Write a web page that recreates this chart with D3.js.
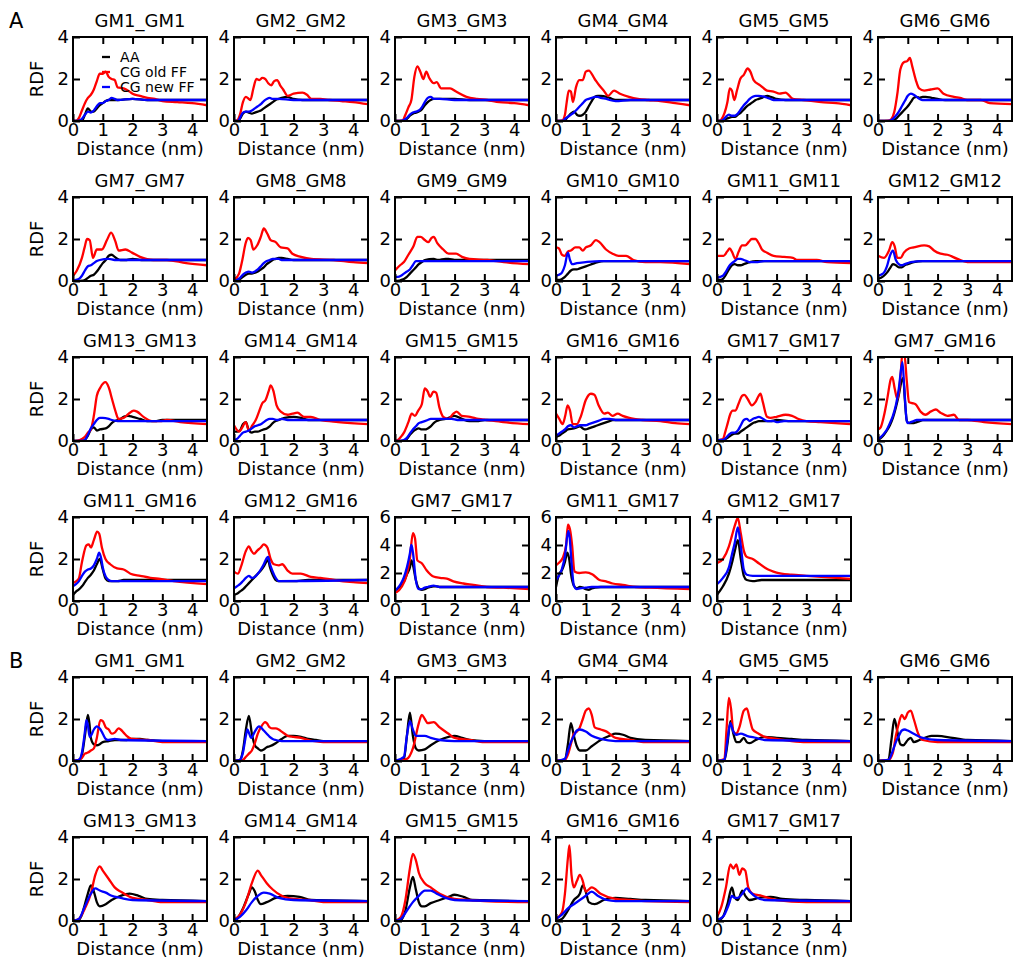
<!DOCTYPE html>
<html>
<head>
<meta charset="utf-8">
<script src="https://cdn.jsdelivr.net/npm/d3@7"></script>
<style>
  body { margin: 0; background: #fff; }
  text { font-family: "DejaVu Sans", sans-serif; fill: #000; }
</style>
</head>
<body>
<svg id="chart"></svg>
<script>
// ---- data: each curve is a flat list x0,y0,x1,y1,... (distance nm, RDF) ----
const titlesA = ["GM1_GM1", "GM2_GM2", "GM3_GM3", "GM4_GM4", "GM5_GM5", "GM6_GM6",
  "GM7_GM7", "GM8_GM8", "GM9_GM9", "GM10_GM10", "GM11_GM11", "GM12_GM12",
  "GM13_GM13", "GM14_GM14", "GM15_GM15", "GM16_GM16", "GM17_GM17", "GM7_GM16",
  "GM11_GM16", "GM12_GM16", "GM7_GM17", "GM11_GM17", "GM12_GM17"];
const yMaxA = [4, 4, 4, 4, 4, 4, 4, 4, 4, 4, 4, 4, 4, 4, 4, 4, 4, 4, 4, 4, 6, 6, 4];

const aaA = [
  [0,0, 0.3,0.02, 0.4,0.3, 0.5,0.6, 0.6,0.45, 0.7,0.45, 0.8,0.6, 0.9,0.75, 1.0,0.85, 1.1,0.95, 1.2,1.0, 1.5,1.0, 2.0,1.05, 2.5,1.0, 4.5,1.0],
  [0,0, 0.15,0.02, 0.2,0.1, 0.3,0.35, 0.4,0.45, 0.5,0.4, 0.6,0.35, 0.7,0.4, 0.8,0.45, 0.9,0.5, 1.0,0.6, 1.1,0.7, 1.2,0.8, 1.3,0.9, 1.4,1.0, 1.5,1.05, 1.6,1.1, 1.8,1.15, 1.9,1.1, 2.0,1.05, 2.3,1.0, 4.5,1.0],
  [0,0, 0.3,0.02, 0.4,0.1, 0.5,0.25, 0.6,0.35, 0.7,0.4, 0.8,0.45, 0.9,0.55, 1.0,0.75, 1.1,0.9, 1.2,1.0, 1.3,1.05, 2.0,1.05, 2.5,1.0, 4.5,1.0],
  [0,0, 0.25,0.02, 0.3,0.05, 0.4,0.2, 0.5,0.35, 0.6,0.45, 0.7,0.3, 0.8,0.25, 0.9,0.3, 1.0,0.45, 1.1,0.7, 1.2,0.95, 1.3,1.15, 1.4,1.2, 1.5,1.2, 1.7,1.15, 1.8,1.1, 2.0,1.0, 4.5,1.0],
  [0,0, 0.15,0.02, 0.2,0.05, 0.3,0.1, 0.4,0.15, 0.5,0.2, 0.6,0.2, 0.7,0.3, 0.8,0.4, 0.9,0.55, 1.0,0.7, 1.1,0.8, 1.2,0.9, 1.3,1.0, 1.4,1.05, 1.5,1.1, 1.7,1.2, 1.8,1.15, 1.9,1.1, 2.0,1.05, 2.3,1.0, 4.5,1.0],
  [0,0, 0.45,0.02, 0.5,0.05, 0.6,0.1, 0.7,0.25, 0.8,0.4, 0.9,0.55, 1.0,0.7, 1.1,0.9, 1.2,1.1, 1.3,1.15, 1.4,1.1, 1.5,1.15, 1.6,1.15, 1.8,1.1, 2.0,1.05, 2.25,1.0, 4.5,1.0],
  [0,0, 0.35,0.02, 0.4,0.05, 0.5,0.15, 0.6,0.25, 0.7,0.3, 0.8,0.45, 0.9,0.65, 1.0,0.85, 1.1,1.0, 1.2,1.2, 1.3,1.25, 1.4,1.15, 1.5,1.05, 1.6,1.0, 1.8,1.0, 2.0,1.05, 2.3,1.0, 4.5,1.0],
  [0,0, 0.1,0.05, 0.2,0.1, 0.3,0.2, 0.4,0.3, 0.5,0.35, 0.6,0.35, 0.7,0.4, 0.8,0.45, 0.9,0.55, 1.0,0.65, 1.1,0.8, 1.2,0.9, 1.3,1.0, 1.4,1.05, 1.5,1.1, 1.6,1.1, 1.8,1.05, 2.0,1.0, 4.5,1.0],
  [0,0, 0.15,0.02, 0.2,0.05, 0.3,0.1, 0.4,0.2, 0.5,0.35, 0.6,0.5, 0.7,0.65, 0.8,0.8, 0.9,0.9, 1.0,1.0, 1.3,1.05, 1.45,1.0, 1.7,1.05, 1.8,1.05, 2.0,1.0, 4.5,1.0],
  [0,0.05, 0.1,0.05, 0.2,0.1, 0.3,0.2, 0.4,0.35, 0.5,0.5, 0.6,0.55, 0.7,0.55, 0.8,0.6, 0.9,0.65, 1.0,0.7, 1.1,0.75, 1.2,0.8, 1.3,0.85, 1.4,0.9, 1.6,0.95, 4.5,0.95],
  [0,0.05, 0.1,0.05, 0.2,0.1, 0.3,0.3, 0.4,0.55, 0.5,0.75, 0.6,0.8, 0.7,0.75, 0.8,0.75, 0.9,0.8, 1.0,0.85, 1.1,0.9, 1.3,0.95, 4.5,0.95],
  [0,0.1, 0.1,0.15, 0.2,0.25, 0.3,0.4, 0.4,0.6, 0.5,0.8, 0.6,0.75, 0.7,0.65, 0.8,0.65, 0.9,0.75, 1.0,0.8, 1.1,0.85, 1.2,0.9, 1.5,0.95, 4.5,0.95],
  [0,0, 0.35,0.02, 0.4,0.05, 0.5,0.25, 0.6,0.55, 0.7,0.65, 0.8,0.5, 0.9,0.55, 1.1,0.6, 1.2,0.7, 1.3,0.85, 1.4,0.95, 1.5,1.0, 1.6,1.05, 1.7,1.15, 1.85,1.2, 2.0,1.15, 2.25,1.05, 2.5,0.95, 2.75,0.95, 3.0,1.0, 4.5,1.0],
  [0,0.45, 0.1,0.45, 0.2,0.5, 0.3,0.8, 0.4,0.9, 0.5,0.5, 0.6,0.4, 0.7,0.45, 0.8,0.45, 0.9,0.5, 1.0,0.55, 1.1,0.6, 1.2,0.7, 1.3,0.85, 1.4,0.95, 1.5,1.0, 1.6,1.05, 1.7,1.1, 2.0,1.15, 2.25,1.1, 2.5,1.0, 4.5,1.0],
  [0,0, 0.3,0.02, 0.4,0.1, 0.5,0.3, 0.6,0.45, 0.7,0.55, 0.8,0.6, 0.9,0.55, 1.0,0.55, 1.1,0.6, 1.2,0.7, 1.3,0.85, 1.4,0.95, 1.5,1.0, 1.7,1.05, 1.8,1.1, 2.0,1.2, 2.25,1.05, 2.5,0.95, 2.75,0.95, 3.0,1.0, 4.5,1.0],
  [0,0.2, 0.1,0.25, 0.2,0.35, 0.3,0.45, 0.4,0.55, 0.6,0.6, 0.7,0.65, 0.8,0.7, 0.9,0.6, 1.0,0.55, 1.1,0.6, 1.2,0.65, 1.3,0.7, 1.4,0.75, 1.5,0.8, 1.6,0.85, 1.7,0.9, 1.8,0.95, 1.9,1.0, 4.5,1.0],
  [0,0, 0.2,0.02, 0.3,0.1, 0.4,0.2, 0.5,0.3, 0.6,0.35, 0.7,0.35, 0.8,0.45, 0.9,0.55, 1.0,0.65, 1.1,0.75, 1.2,0.85, 1.3,0.9, 1.4,0.95, 1.8,0.95, 2.0,1.0, 2.5,0.95, 4.5,0.95],
  [0,0.05, 0.1,0.15, 0.2,0.3, 0.3,0.5, 0.4,0.75, 0.5,1.1, 0.6,1.6, 0.7,2.2, 0.8,2.9, 0.85,3.0, 0.9,2.0, 0.97,0.95, 1.05,0.85, 1.2,0.85, 1.3,0.9, 1.4,0.95, 1.5,1.0, 4.5,1.0],
  [0,0.3, 0.1,0.45, 0.2,0.55, 0.3,0.7, 0.4,0.9, 0.5,1.1, 0.6,1.25, 0.7,1.45, 0.8,1.75, 0.9,2.0, 1.0,1.5, 1.1,1.05, 1.2,0.95, 1.5,0.95, 1.7,1.0, 4.5,1.0],
  [0,0.3, 0.1,0.35, 0.2,0.45, 0.3,0.55, 0.4,0.7, 0.5,0.85, 0.6,1.0, 0.7,1.15, 0.8,1.3, 0.9,1.45, 1.0,1.65, 1.1,1.9, 1.15,1.95, 1.2,1.65, 1.3,1.25, 1.4,1.0, 1.5,0.95, 2.0,0.95, 2.5,1.0, 4.5,1.0],
  [0,0.75, 0.1,0.9, 0.2,1.1, 0.3,1.4, 0.4,1.9, 0.5,2.4, 0.55,2.9, 0.6,2.6, 0.7,1.5, 0.8,0.9, 0.9,0.8, 1.0,0.85, 1.1,0.95, 1.2,1.0, 1.3,1.05, 1.4,1.05, 1.5,1.0, 4.5,1.0],
  [0,1.0, 0.1,1.9, 0.2,2.2, 0.3,2.8, 0.38,3.45, 0.45,2.9, 0.5,2.0, 0.6,1.1, 0.7,0.9, 0.8,1.0, 0.9,0.95, 1.0,0.85, 1.1,0.8, 1.2,0.9, 1.3,0.95, 1.5,1.0, 4.5,1.0],
  [0,0.3, 0.2,0.7, 0.4,1.3, 0.5,1.8, 0.6,2.4, 0.7,2.9, 0.8,2.0, 0.9,1.2, 1.0,1.0, 1.2,0.95, 1.5,1.0, 4.5,1.0]
];

const oldA = [
  [0,0, 0.1,0, 0.2,0.15, 0.3,0.5, 0.4,0.85, 0.5,1.1, 0.6,1.25, 0.7,1.5, 0.8,1.9, 0.9,2.25, 1.0,2.25, 1.1,2.35, 1.2,2.1, 1.3,2.0, 1.4,1.95, 1.5,1.6, 1.7,1.55, 1.9,1.4, 2.0,1.3, 2.25,1.2, 2.5,1.1, 2.75,1.05, 3.0,0.95, 3.5,0.9, 4.0,0.85, 4.5,0.75],
  [0,0, 0.1,0.02, 0.2,0.3, 0.3,0.9, 0.4,1.15, 0.5,1.05, 0.55,1.0, 0.65,1.55, 0.75,2.0, 0.85,1.95, 0.95,2.05, 1.05,2.0, 1.15,1.8, 1.25,1.7, 1.35,1.9, 1.45,1.95, 1.55,1.7, 1.65,1.5, 1.8,1.2, 2.0,1.3, 2.3,1.35, 2.45,1.25, 2.6,1.05, 2.9,1.05, 3.2,1.0, 3.6,0.95, 4.0,0.9, 4.5,0.8],
  [0,0, 0.25,0.02, 0.35,0.3, 0.45,0.65, 0.55,1.0, 0.65,2.1, 0.75,2.6, 0.85,2.35, 0.95,2.0, 1.05,2.35, 1.15,2.05, 1.3,1.8, 1.4,1.85, 1.55,1.55, 1.85,1.55, 2.05,1.4, 2.4,1.15, 2.75,1.05, 3.1,1.0, 3.5,0.9, 4.0,0.85, 4.5,0.75],
  [0,0, 0.2,0.02, 0.3,0.3, 0.36,0.9, 0.43,1.45, 0.5,1.4, 0.57,0.9, 0.67,1.6, 0.78,1.95, 0.9,1.95, 1.0,2.35, 1.1,2.4, 1.3,2.0, 1.45,1.7, 1.6,1.45, 1.75,1.2, 1.95,1.45, 2.15,1.3, 2.45,1.15, 2.75,1.05, 3.1,1.0, 3.5,0.95, 4.0,0.85, 4.5,0.75],
  [0,0, 0.1,0.02, 0.2,0.2, 0.3,0.6, 0.35,0.9, 0.43,1.55, 0.5,1.45, 0.58,1.0, 0.67,1.45, 0.78,2.0, 0.9,2.2, 1.03,2.5, 1.12,2.35, 1.23,1.95, 1.45,1.7, 1.68,1.45, 1.9,1.4, 2.1,1.3, 2.3,1.35, 2.55,1.05, 2.9,1.0, 3.5,0.9, 4.0,0.85, 4.5,0.75],
  [0,0, 0.35,0.02, 0.45,0.1, 0.55,0.45, 0.65,1.3, 0.75,2.45, 0.87,2.8, 0.98,2.85, 1.07,3.0, 1.15,2.6, 1.27,1.95, 1.38,1.55, 1.55,1.45, 1.77,1.5, 2.0,1.55, 2.2,1.3, 2.55,1.15, 2.75,1.1, 3.0,1.0, 3.45,1.0, 3.75,0.85, 4.5,0.8],
  [0,0.25, 0.13,0.5, 0.3,1.1, 0.39,1.6, 0.47,2.0, 0.56,1.95, 0.67,1.1, 0.8,1.5, 0.97,1.5, 1.14,1.95, 1.28,2.3, 1.42,1.9, 1.53,1.45, 1.76,1.5, 1.98,1.35, 2.25,1.15, 2.7,1.0, 3.15,1.0, 3.8,0.85, 4.5,0.75],
  [0,0.05, 0.17,0.35, 0.28,1.0, 0.39,1.8, 0.47,2.05, 0.56,1.95, 0.65,1.5, 0.78,1.7, 0.9,2.1, 1.0,2.5, 1.12,2.25, 1.23,1.95, 1.4,1.85, 1.57,1.6, 1.8,1.55, 1.96,1.3, 2.25,1.15, 2.6,1.05, 3.35,1.0, 4.0,0.9, 4.5,0.85],
  [0,0.5, 0.17,0.75, 0.3,0.9, 0.45,1.25, 0.62,1.65, 0.75,2.1, 0.86,2.1, 1.0,1.95, 1.12,1.85, 1.23,2.05, 1.3,2.1, 1.42,1.8, 1.62,1.5, 1.8,1.3, 2.05,1.3, 2.25,1.15, 2.5,1.05, 3.1,1.0, 3.65,0.9, 4.5,0.8],
  [0,1.6, 0.1,1.55, 0.2,1.25, 0.3,1.2, 0.4,1.4, 0.5,1.45, 0.65,1.6, 0.78,1.6, 0.9,1.45, 1.0,1.6, 1.17,1.7, 1.34,1.95, 1.46,1.85, 1.68,1.5, 1.9,1.3, 2.1,1.2, 2.35,1.2, 2.6,1.0, 3.0,0.9, 3.5,0.9, 4.5,0.8],
  [0,1.2, 0.22,1.2, 0.34,1.4, 0.43,1.55, 0.5,1.4, 0.62,1.05, 0.73,1.4, 0.84,1.7, 0.95,1.7, 1.06,1.85, 1.17,2.0, 1.29,2.0, 1.4,1.8, 1.51,1.5, 1.68,1.35, 1.9,1.2, 2.25,1.15, 2.55,1.1, 2.7,1.0, 3.35,1.0, 3.7,0.9, 4.5,0.85],
  [0,1.2, 0.2,1.1, 0.37,1.45, 0.48,1.85, 0.56,1.65, 0.65,1.1, 0.76,1.1, 0.87,1.35, 1.04,1.55, 1.2,1.6, 1.55,1.7, 1.72,1.65, 1.88,1.45, 2.1,1.3, 2.33,1.25, 2.67,1.05, 3.0,0.9, 3.55,0.9, 4.5,0.9],
  [0,0, 0.15,0.02, 0.3,0.1, 0.4,0.2, 0.5,0.4, 0.6,0.55, 0.7,1.2, 0.8,2.15, 0.92,2.55, 1.09,2.8, 1.2,2.55, 1.31,2.0, 1.42,1.45, 1.53,1.05, 1.7,1.1, 1.87,1.3, 2.04,1.45, 2.15,1.4, 2.37,1.15, 2.65,0.95, 2.93,0.95, 3.15,1.0, 3.6,0.9, 4.5,0.8],
  [0,0.75, 0.17,0.45, 0.28,0.65, 0.39,0.9, 0.5,0.5, 0.62,0.75, 0.73,1.0, 0.84,1.4, 0.95,1.8, 1.06,1.95, 1.17,2.4, 1.23,2.65, 1.32,2.4, 1.43,1.7, 1.57,1.4, 1.8,1.25, 1.96,1.3, 2.13,1.35, 2.35,1.15, 2.58,1.15, 2.9,1.0, 3.5,0.9, 4.5,0.8],
  [0,0, 0.1,0.05, 0.2,0.2, 0.3,0.4, 0.45,0.9, 0.56,1.3, 0.67,1.2, 0.78,1.45, 0.9,1.75, 1.0,2.5, 1.1,2.35, 1.18,2.1, 1.29,2.35, 1.38,2.3, 1.49,1.6, 1.62,1.15, 1.79,1.05, 1.96,1.3, 2.07,1.4, 2.24,1.2, 2.52,1.15, 2.8,1.05, 3.08,1.0, 3.64,0.9, 4.5,0.8],
  [0,1.3, 0.11,1.05, 0.22,0.8, 0.31,1.2, 0.39,1.7, 0.47,1.45, 0.56,0.8, 0.7,0.8, 0.84,1.2, 1.0,1.95, 1.17,2.25, 1.29,2.2, 1.43,1.7, 1.62,1.3, 1.74,1.35, 1.9,1.2, 2.07,1.3, 2.24,1.2, 2.46,1.1, 2.9,1.0, 3.5,0.95, 4.0,0.85, 4.5,0.8],
  [0,0, 0.1,0.05, 0.2,0.1, 0.28,0.45, 0.36,0.85, 0.45,1.3, 0.53,1.45, 0.62,1.45, 0.73,1.8, 0.84,2.15, 0.92,2.2, 1.03,2.0, 1.17,1.7, 1.29,1.85, 1.4,2.15, 1.46,2.25, 1.54,1.85, 1.68,1.15, 1.8,1.1, 2.0,1.15, 2.3,1.25, 2.52,1.2, 2.74,1.05, 3.0,0.95, 3.47,0.9, 4.5,0.8],
  [0,0.55, 0.09,0.65, 0.2,1.2, 0.31,2.0, 0.43,2.95, 0.48,3.05, 0.56,2.5, 0.65,2.0, 0.76,3.15, 0.82,4.2, 0.88,4.2, 0.97,2.8, 1.04,1.85, 1.15,1.8, 1.26,1.75, 1.43,1.4, 1.6,1.25, 1.77,1.4, 1.94,1.5, 2.1,1.35, 2.33,1.2, 2.55,1.25, 2.72,1.0, 3.0,1.0, 3.56,0.9, 4.5,0.8],
  [0,0.85, 0.19,1.05, 0.3,1.85, 0.45,2.65, 0.53,2.7, 0.6,2.55, 0.7,2.9, 0.81,3.3, 0.88,3.2, 0.97,2.55, 1.09,2.0, 1.25,1.75, 1.48,1.55, 1.7,1.5, 1.93,1.3, 2.26,1.2, 2.6,1.1, 2.93,1.05, 3.38,0.95, 4.5,0.8],
  [0,1.4, 0.13,1.3, 0.25,1.7, 0.39,2.35, 0.5,2.6, 0.58,2.4, 0.67,2.25, 0.78,2.4, 0.9,2.55, 1.0,2.7, 1.12,2.55, 1.23,2.0, 1.34,1.75, 1.51,1.7, 1.62,1.75, 1.8,1.45, 1.96,1.3, 2.24,1.3, 2.58,1.15, 2.9,1.1, 3.36,1.0, 4.0,0.9, 4.5,0.85],
  [0,0.6, 0.06,0.65, 0.22,1.0, 0.39,1.85, 0.5,3.05, 0.6,4.85, 0.67,4.5, 0.75,2.9, 0.9,2.7, 1.06,2.2, 1.29,1.75, 1.51,1.65, 1.74,1.6, 1.96,1.4, 2.3,1.25, 2.63,1.15, 3.08,1.0, 3.64,0.95, 4.5,0.85],
  [0,2.55, 0.11,2.75, 0.22,3.05, 0.34,4.0, 0.4,5.45, 0.47,5.1, 0.54,4.0, 0.62,2.1, 0.78,2.0, 1.0,2.05, 1.23,1.9, 1.46,1.5, 1.68,1.4, 1.9,1.25, 2.24,1.15, 2.69,1.0, 3.14,0.95, 4.5,0.85],
  [0,1.8, 0.2,2.0, 0.4,2.6, 0.5,3.1, 0.6,3.6, 0.7,3.95, 0.8,3.2, 0.9,2.4, 1.0,2.1, 1.2,2.0, 1.4,1.8, 1.6,1.6, 1.8,1.45, 2.0,1.35, 2.5,1.25, 3.0,1.2, 4.5,1.05]
];

const newA = [
  [0,0, 0.2,0.02, 0.3,0.1, 0.4,0.3, 0.5,0.45, 0.6,0.4, 0.7,0.5, 0.8,0.7, 0.9,0.85, 1.0,0.85, 1.1,0.95, 1.2,1.0, 1.3,1.1, 1.4,1.05, 1.5,1.0, 2.0,1.05, 2.5,1.0, 4.5,1.0],
  [0,0, 0.15,0.02, 0.2,0.15, 0.3,0.4, 0.4,0.45, 0.5,0.45, 0.6,0.5, 0.7,0.6, 0.8,0.7, 0.9,0.8, 1.0,0.95, 1.1,1.05, 1.2,1.1, 1.3,1.05, 1.5,1.05, 2.0,1.0, 4.5,1.0],
  [0,0, 0.25,0.02, 0.3,0.05, 0.4,0.15, 0.5,0.3, 0.6,0.4, 0.7,0.45, 0.8,0.5, 0.9,0.65, 1.0,0.9, 1.1,1.1, 1.2,1.15, 1.3,1.05, 1.5,1.05, 2.0,1.0, 4.5,1.0],
  [0,0, 0.25,0.02, 0.3,0.1, 0.4,0.2, 0.5,0.3, 0.6,0.4, 0.7,0.55, 0.8,0.7, 0.9,0.85, 1.0,1.0, 1.1,1.05, 1.2,1.1, 1.3,1.15, 1.4,1.15, 1.5,1.1, 1.7,1.05, 1.8,1.0, 2.0,0.95, 2.5,1.0, 4.5,1.0],
  [0,0, 0.15,0.02, 0.2,0.05, 0.3,0.2, 0.4,0.3, 0.5,0.25, 0.6,0.25, 0.7,0.35, 0.8,0.55, 0.9,0.75, 1.0,0.9, 1.1,1.05, 1.2,1.15, 1.3,1.2, 1.4,1.2, 1.6,1.15, 1.7,1.1, 1.8,1.05, 1.9,1.0, 4.5,1.0],
  [0,0, 0.4,0.02, 0.5,0.1, 0.6,0.25, 0.7,0.45, 0.8,0.7, 0.9,0.95, 1.0,1.2, 1.1,1.3, 1.2,1.25, 1.3,1.15, 1.4,1.05, 1.5,1.0, 4.5,1.0],
  [0,0, 0.1,0.05, 0.2,0.1, 0.3,0.25, 0.4,0.5, 0.5,0.7, 0.6,0.75, 0.7,0.85, 0.8,0.95, 0.9,1.0, 1.2,1.05, 1.4,1.0, 4.5,1.0],
  [0,0, 0.1,0.05, 0.2,0.15, 0.3,0.3, 0.4,0.4, 0.5,0.45, 0.6,0.4, 0.7,0.45, 0.8,0.55, 0.9,0.7, 1.0,0.85, 1.1,0.95, 1.2,1.0, 1.3,1.05, 1.5,1.05, 1.6,1.0, 4.5,1.0],
  [0,0.2, 0.1,0.2, 0.2,0.25, 0.3,0.35, 0.4,0.45, 0.5,0.55, 0.6,0.75, 0.7,0.95, 4.5,0.95],
  [0,0.25, 0.1,0.3, 0.2,0.4, 0.3,0.75, 0.4,1.35, 0.47,1.0, 0.55,0.8, 0.7,0.85, 1.0,0.9, 1.5,0.95, 4.5,0.95],
  [0,0.15, 0.1,0.2, 0.2,0.25, 0.3,0.45, 0.4,0.7, 0.5,0.85, 0.6,0.95, 0.7,1.05, 0.8,1.05, 0.9,1.0, 1.0,0.95, 1.1,0.9, 1.3,0.9, 1.6,0.95, 4.5,0.95],
  [0,0.25, 0.1,0.3, 0.2,0.4, 0.3,0.7, 0.4,1.2, 0.5,1.45, 0.6,1.0, 0.7,0.8, 0.8,0.75, 0.9,0.8, 1.0,0.85, 1.1,0.9, 1.5,0.95, 4.5,0.95],
  [0,0, 0.35,0.02, 0.4,0.05, 0.5,0.3, 0.6,0.6, 0.7,0.8, 0.8,1.0, 0.9,1.1, 1.0,1.1, 1.2,1.05, 1.3,1.0, 1.5,0.95, 4.5,0.95],
  [0,0.05, 0.1,0.1, 0.2,0.25, 0.3,0.4, 0.4,0.45, 0.5,0.5, 0.6,0.6, 0.7,0.7, 0.8,0.75, 0.9,0.8, 1.0,0.9, 1.1,1.0, 1.2,1.05, 1.3,1.05, 1.45,1.0, 1.6,1.05, 1.8,1.0, 4.5,1.0],
  [0,0, 0.25,0.02, 0.3,0.05, 0.4,0.15, 0.5,0.35, 0.6,0.55, 0.7,0.7, 0.8,0.85, 0.9,0.9, 1.0,0.95, 1.1,1.0, 1.2,1.05, 1.9,1.05, 2.1,1.0, 4.5,1.0],
  [0,0.25, 0.1,0.35, 0.2,0.45, 0.3,0.55, 0.4,0.7, 0.5,0.75, 0.6,0.65, 0.7,0.7, 0.8,0.75, 1.0,0.75, 1.1,0.8, 1.2,0.85, 1.3,0.9, 1.4,0.95, 1.5,1.0, 1.6,1.05, 1.8,1.05, 2.0,1.0, 4.5,1.0],
  [0,0, 0.1,0.05, 0.2,0.05, 0.3,0.15, 0.4,0.3, 0.5,0.4, 0.6,0.4, 0.7,0.5, 0.8,0.75, 0.9,1.0, 1.0,1.05, 1.1,0.95, 1.2,1.05, 1.3,1.1, 1.4,1.15, 1.5,1.1, 1.6,1.0, 1.7,0.95, 1.9,0.95, 2.0,0.9, 2.25,0.95, 4.5,0.95],
  [0,0.1, 0.1,0.2, 0.2,0.35, 0.3,0.55, 0.4,0.85, 0.5,1.2, 0.6,1.7, 0.7,2.5, 0.82,3.75, 0.88,2.6, 0.96,1.0, 1.0,0.85, 1.1,0.9, 1.2,0.95, 1.3,1.0, 4.5,1.0],
  [0,0.7, 0.1,0.8, 0.2,0.95, 0.3,1.2, 0.4,1.4, 0.5,1.5, 0.6,1.55, 0.7,1.7, 0.8,2.0, 0.88,2.3, 0.95,2.0, 1.0,1.6, 1.1,1.15, 1.2,1.0, 1.3,0.95, 4.5,0.95],
  [0,0.6, 0.1,0.7, 0.2,0.8, 0.3,0.95, 0.4,1.1, 0.5,1.2, 0.6,1.1, 0.7,1.15, 0.8,1.3, 0.9,1.5, 1.0,1.75, 1.1,2.05, 1.15,2.1, 1.2,1.8, 1.3,1.4, 1.4,1.1, 1.5,0.95, 4.5,1.0],
  [0,0.75, 0.1,0.95, 0.2,1.25, 0.3,1.7, 0.4,2.4, 0.5,3.4, 0.55,4.0, 0.6,3.5, 0.7,1.5, 0.8,0.85, 0.9,0.85, 1.0,0.95, 1.1,1.0, 1.3,1.1, 1.4,1.05, 1.5,1.0, 4.5,1.0],
  [0,1.5, 0.1,1.8, 0.2,2.3, 0.3,3.2, 0.41,5.0, 0.46,4.5, 0.52,2.8, 0.6,1.1, 0.7,0.85, 0.8,0.9, 1.0,0.95, 1.2,1.0, 4.5,1.0],
  [0,0.8, 0.2,1.1, 0.4,1.6, 0.5,2.2, 0.6,2.8, 0.7,3.5, 0.8,2.6, 0.9,1.5, 1.0,1.25, 1.2,1.2, 4.5,1.2]
];

const titlesB = ["GM1_GM1", "GM2_GM2", "GM3_GM3", "GM4_GM4", "GM5_GM5", "GM6_GM6",
  "GM13_GM13", "GM14_GM14", "GM15_GM15", "GM16_GM16", "GM17_GM17"];

const aaB = [
  [0,0, 0.2,0.05, 0.3,0.3, 0.4,1.2, 0.5,2.2, 0.55,1.8, 0.6,1.1, 0.7,0.8, 0.8,0.75, 0.9,0.8, 1.0,0.9, 1.2,0.95, 1.4,1.0, 1.8,1.0, 2.0,1.05, 2.25,1.05, 2.5,1.0, 3.0,0.95, 4.5,0.95],
  [0,0, 0.2,0.05, 0.3,0.5, 0.4,1.5, 0.5,2.15, 0.6,1.3, 0.7,0.75, 0.8,0.6, 0.9,0.5, 1.0,0.55, 1.1,0.65, 1.2,0.7, 1.4,0.85, 1.6,1.05, 1.8,1.2, 2.0,1.2, 2.25,1.15, 2.5,1.05, 2.75,1.0, 3.0,0.95, 4.5,0.95],
  [0,0, 0.3,0.1, 0.4,1.2, 0.5,2.3, 0.6,1.2, 0.7,0.6, 0.8,0.5, 1.0,0.55, 1.2,0.75, 1.5,1.0, 1.8,1.15, 2.0,1.2, 2.25,1.1, 2.5,1.0, 3.0,0.95, 4.5,0.95],
  [0,0, 0.3,0.05, 0.4,0.8, 0.5,1.8, 0.6,1.2, 0.7,0.7, 0.8,0.5, 1.0,0.5, 1.2,0.7, 1.5,1.0, 1.8,1.2, 2.0,1.3, 2.25,1.25, 2.5,1.1, 3.0,1.0, 4.5,0.95],
  [0,0, 0.25,0.05, 0.35,0.8, 0.45,1.9, 0.55,1.3, 0.65,0.9, 0.75,0.9, 0.9,1.1, 1.0,0.9, 1.1,0.85, 1.3,1.0, 1.6,1.15, 2.0,1.1, 2.5,1.05, 3.0,1.0, 4.5,0.95],
  [0,0, 0.35,0.05, 0.45,1.0, 0.55,2.0, 0.65,1.4, 0.75,0.8, 0.85,0.75, 1.0,1.0, 1.1,1.1, 1.2,0.9, 1.4,1.0, 1.8,1.2, 2.0,1.2, 2.5,1.1, 3.0,1.0, 4.5,0.95],
  [0,0, 0.2,0.05, 0.3,0.3, 0.4,0.8, 0.5,1.3, 0.6,1.7, 0.7,1.4, 0.8,0.9, 0.9,0.7, 1.1,0.8, 1.3,1.0, 1.6,1.2, 1.9,1.3, 2.2,1.2, 2.5,1.05, 3.0,1.0, 4.5,0.95],
  [0,0, 0.1,0.1, 0.3,0.6, 0.5,1.3, 0.6,1.6, 0.7,1.4, 0.8,1.0, 0.9,0.8, 1.1,0.9, 1.4,1.1, 1.8,1.2, 2.2,1.15, 2.6,1.0, 4.5,0.95],
  [0,0, 0.2,0.05, 0.35,0.5, 0.5,1.6, 0.6,2.1, 0.7,1.5, 0.8,0.9, 0.9,0.7, 1.0,0.7, 1.2,0.85, 1.5,1.0, 1.8,1.15, 2.0,1.25, 2.3,1.15, 2.6,1.0, 4.5,0.95],
  [0,0, 0.2,0.1, 0.4,0.5, 0.6,1.0, 0.8,1.3, 0.9,1.7, 1.0,1.4, 1.1,0.9, 1.3,0.8, 1.6,1.0, 2.0,1.1, 2.5,1.05, 3.0,1.0, 4.5,0.95],
  [0,0, 0.2,0.2, 0.35,0.8, 0.5,1.6, 0.6,1.1, 0.7,1.0, 0.85,1.45, 0.95,1.2, 1.1,1.0, 1.4,1.1, 1.8,1.15, 2.2,1.05, 3.0,1.0, 4.5,0.95]
];

const oldB = [
  [0,0, 0.2,0.05, 0.3,0.15, 0.4,0.35, 0.5,0.4, 0.6,0.5, 0.7,0.6, 0.8,1.1, 0.92,1.95, 1.0,1.9, 1.1,1.6, 1.2,1.5, 1.3,1.3, 1.4,1.35, 1.53,1.55, 1.6,1.5, 1.7,1.35, 1.8,1.2, 1.9,1.1, 2.0,1.05, 2.5,1.0, 3.0,0.9, 4.5,0.9],
  [0,0, 0.3,0.05, 0.4,0.2, 0.5,0.35, 0.6,0.5, 0.7,0.85, 0.8,1.3, 0.9,1.6, 1.05,1.85, 1.1,1.8, 1.2,1.6, 1.3,1.55, 1.4,1.55, 1.5,1.5, 1.6,1.4, 1.7,1.3, 1.8,1.2, 2.0,1.15, 2.25,1.1, 2.5,1.0, 3.0,0.9, 4.5,0.9],
  [0,0, 0.4,0.1, 0.6,0.6, 0.8,1.8, 0.9,2.2, 1.0,2.0, 1.1,1.8, 1.3,1.85, 1.5,1.6, 1.8,1.3, 2.0,1.1, 2.5,1.0, 3.0,0.9, 4.5,0.9],
  [0,0, 0.3,0.05, 0.4,0.3, 0.5,0.8, 0.6,1.3, 0.7,1.4, 0.8,1.6, 0.9,2.0, 1.0,2.4, 1.1,2.5, 1.2,2.2, 1.3,1.6, 1.5,1.5, 1.7,1.4, 2.0,1.1, 2.5,1.0, 3.0,0.9, 4.5,0.9],
  [0,0, 0.25,0.1, 0.32,1.5, 0.4,3.0, 0.47,2.5, 0.55,1.4, 0.65,1.3, 0.75,1.6, 0.9,2.4, 1.0,2.5, 1.1,2.0, 1.2,1.5, 1.4,1.3, 1.6,1.15, 2.0,1.05, 2.5,0.95, 3.0,0.9, 4.5,0.9],
  [0,0, 0.35,0.05, 0.5,0.4, 0.6,1.2, 0.7,1.8, 0.8,2.2, 0.9,2.0, 1.0,2.3, 1.1,2.4, 1.2,2.0, 1.35,1.3, 1.5,1.0, 2.0,0.9, 3.0,0.9, 4.5,0.9],
  [0,0, 0.2,0.1, 0.4,0.6, 0.6,1.3, 0.75,2.2, 0.9,2.6, 1.0,2.4, 1.2,2.0, 1.4,1.6, 1.6,1.4, 2.0,1.1, 2.5,1.0, 3.0,0.9, 4.5,0.9],
  [0,0.05, 0.2,0.3, 0.4,0.9, 0.6,1.8, 0.8,2.4, 0.9,2.2, 1.1,1.8, 1.3,1.5, 1.6,1.2, 2.0,1.05, 2.5,1.0, 3.0,0.9, 4.5,0.9],
  [0,0, 0.2,0.2, 0.35,1.0, 0.5,2.5, 0.6,3.2, 0.7,2.9, 0.8,2.3, 1.0,1.8, 1.2,1.6, 1.5,1.3, 2.0,1.05, 2.5,1.0, 3.0,0.95, 4.5,0.9],
  [0,0.1, 0.2,0.4, 0.3,1.3, 0.4,3.0, 0.45,3.6, 0.52,2.2, 0.6,1.6, 0.7,1.9, 0.8,2.2, 0.9,1.9, 1.0,1.4, 1.2,1.6, 1.5,1.3, 2.0,1.05, 2.5,1.0, 3.0,0.95, 4.5,0.9],
  [0,0.2, 0.15,0.7, 0.3,1.6, 0.45,2.7, 0.55,2.5, 0.65,2.7, 0.75,2.2, 0.85,2.5, 0.95,2.4, 1.05,1.6, 1.2,1.3, 1.5,1.2, 2.0,1.0, 3.0,0.9, 4.5,0.9]
];

const newB = [
  [0,0, 0.2,0.05, 0.3,0.4, 0.4,1.4, 0.45,1.95, 0.5,1.7, 0.56,1.15, 0.6,1.2, 0.7,1.5, 0.8,1.65, 0.9,1.55, 1.0,1.3, 1.1,1.05, 1.2,1.0, 1.4,1.05, 1.6,1.0, 4.5,0.95],
  [0,0, 0.2,0.05, 0.3,0.4, 0.4,1.2, 0.45,1.5, 0.5,1.35, 0.58,1.1, 0.7,1.4, 0.84,1.65, 0.9,1.6, 1.0,1.45, 1.1,1.3, 1.2,1.15, 1.3,1.05, 1.4,1.0, 1.6,0.95, 4.5,0.95],
  [0,0, 0.3,0.2, 0.4,1.2, 0.5,1.9, 0.6,1.5, 0.7,1.2, 0.8,1.2, 1.0,1.2, 1.2,1.1, 1.5,1.0, 2.0,0.95, 4.5,0.95],
  [0,0, 0.3,0.1, 0.4,0.5, 0.5,0.9, 0.6,1.2, 0.7,1.45, 0.8,1.5, 1.0,1.4, 1.2,1.2, 1.5,1.05, 2.0,0.95, 4.5,0.95],
  [0,0, 0.25,0.05, 0.35,1.0, 0.45,1.8, 0.55,1.4, 0.65,1.25, 0.8,1.3, 1.0,1.2, 1.3,1.1, 1.6,1.0, 4.5,0.95],
  [0,0, 0.35,0.05, 0.5,0.5, 0.6,0.9, 0.7,1.2, 0.8,1.45, 0.9,1.5, 1.0,1.45, 1.2,1.3, 1.5,1.1, 2.0,1.0, 4.5,0.95],
  [0,0, 0.2,0.1, 0.4,0.7, 0.6,1.3, 0.75,1.55, 0.9,1.45, 1.1,1.35, 1.3,1.2, 1.6,1.1, 2.0,1.0, 4.5,0.95],
  [0,0.05, 0.2,0.2, 0.4,0.5, 0.6,0.9, 0.8,1.2, 1.0,1.35, 1.2,1.3, 1.5,1.1, 2.0,1.0, 4.5,0.95],
  [0,0, 0.2,0.1, 0.4,0.5, 0.6,0.9, 0.8,1.2, 1.0,1.45, 1.2,1.45, 1.4,1.3, 1.7,1.1, 2.0,1.0, 4.5,0.95],
  [0,0.1, 0.2,0.3, 0.4,0.6, 0.6,0.8, 0.8,1.0, 1.0,1.2, 1.2,1.4, 1.4,1.2, 1.7,1.0, 2.0,0.95, 4.5,0.95],
  [0,0.05, 0.2,0.2, 0.4,0.8, 0.5,1.2, 0.6,1.1, 0.7,1.1, 0.85,1.3, 1.0,1.55, 1.1,1.4, 1.3,1.15, 1.6,1.0, 4.5,0.95]
];

const legendLabels = ["AA", "CG old FF", "CG new FF"];
const colors = ["#000000", "#ff0000", "#0000ff"];
const xTicks = [0, 1, 2, 3, 4];

// ---- layout ----
const width = 1014, height = 959;
const panelW = 134, panelH = 84;
const colX = d3.range(6).map((c) => 73 + c * 161);
const rowStep = 160;

const svg = d3.select("#chart").attr("width", width).attr("height", height);
svg.append("rect").attr("width", width).attr("height", height).attr("fill", "#fff");

const toPairs = (flat) => d3.range(0, flat.length, 2).map((i) => [flat[i], flat[i + 1]]);
let clipId = 0;

function drawPanel(left, top, title, ymax, curves, isFirstCol, withLegend) {
  const x = d3.scaleLinear().domain([0, 4.5]).range([0, panelW]);
  const y = d3.scaleLinear().domain([0, ymax]).range([panelH, 0]);
  const yTicks = d3.range(0, ymax + 0.1, 2);

  const g = svg.append("g").attr("transform", `translate(${left},${top})`);
  const id = "clip" + clipId++;
  g.append("clipPath").attr("id", id)
    .append("rect").attr("width", panelW).attr("height", panelH);

  // curves: AA, CG old, CG new
  const line = d3.line().x((d) => x(d[0])).y((d) => y(d[1])).curve(d3.curveMonotoneX);
  const linesG = g.append("g").attr("clip-path", `url(#${id})`);
  curves.forEach((flat, i) => {
    linesG.append("path")
      .attr("d", line(toPairs(flat)))
      .attr("fill", "none")
      .attr("stroke", colors[i])
      .attr("stroke-width", 2.3)
      .attr("stroke-linejoin", "round");
  });

  // inward ticks on all four sides
  const styleAxis = (sel) => {
    sel.select(".domain").remove();
    sel.selectAll(".tick line").attr("stroke", "#000").attr("stroke-width", 2);
    sel.selectAll("text").attr("font-size", 18).attr("fill", "#000")
      .attr("font-family", '"DejaVu Sans", sans-serif');
  };
  g.append("g").attr("transform", `translate(0,${panelH})`)
    .call(d3.axisBottom(x).tickValues(xTicks).tickSize(-7).tickPadding(2).tickFormat(d3.format("d")))
    .call(styleAxis);
  g.append("g")
    .call(d3.axisTop(x).tickValues(xTicks.slice(1)).tickSize(-7).tickFormat(""))
    .call(styleAxis);
  g.append("g")
    .call(d3.axisLeft(y).tickValues(yTicks).tickSize(-7).tickPadding(4).tickFormat(d3.format("d")))
    .call(styleAxis);
  g.append("g").attr("transform", `translate(${panelW},0)`)
    .call(d3.axisRight(y).tickValues(yTicks.slice(1, -1)).tickSize(-7).tickFormat(""))
    .call(styleAxis);

  g.append("rect").attr("width", panelW).attr("height", panelH)
    .attr("fill", "none").attr("stroke", "#000").attr("stroke-width", 2);

  g.append("text").attr("x", panelW / 2).attr("y", -10)
    .attr("text-anchor", "middle").attr("font-size", 18).text(title);
  g.append("text").attr("x", panelW / 2).attr("y", panelH + 34)
    .attr("text-anchor", "middle").attr("font-size", 18).text("Distance (nm)");

  if (isFirstCol) {
    g.append("text").attr("transform", `translate(-30,${panelH / 2}) rotate(-90)`)
      .attr("text-anchor", "middle").attr("font-size", 18).text("RDF");
  }

  if (withLegend) {
    legendLabels.forEach((label, i) => {
      const ly = 20 + i * 15;
      g.append("line").attr("x1", 29).attr("x2", 37).attr("y1", ly).attr("y2", ly)
        .attr("stroke", colors[i]).attr("stroke-width", 2.3);
      g.append("text").attr("x", 47).attr("y", ly).attr("dy", "0.35em")
        .attr("font-size", 14).text(label);
    });
  }
}

function drawSection(label, top0, titles, yMax, aa, old, cgNew) {
  svg.append("text").attr("x", 9).attr("y", top0 - 9)
    .attr("font-size", 21).text(label);
  titles.forEach((t, i) => {
    const row = Math.floor(i / 6), col = i % 6;
    drawPanel(colX[col], top0 + row * rowStep, t, yMax[i], [aa[i], old[i], cgNew[i]],
      col === 0, label === "A" && i === 0);
  });
}

drawSection("A", 37, titlesA, yMaxA, aaA, oldA, newA);
drawSection("B", 677, titlesB, titlesB.map(() => 4), aaB, oldB, newB);
</script>
</body>
</html>
